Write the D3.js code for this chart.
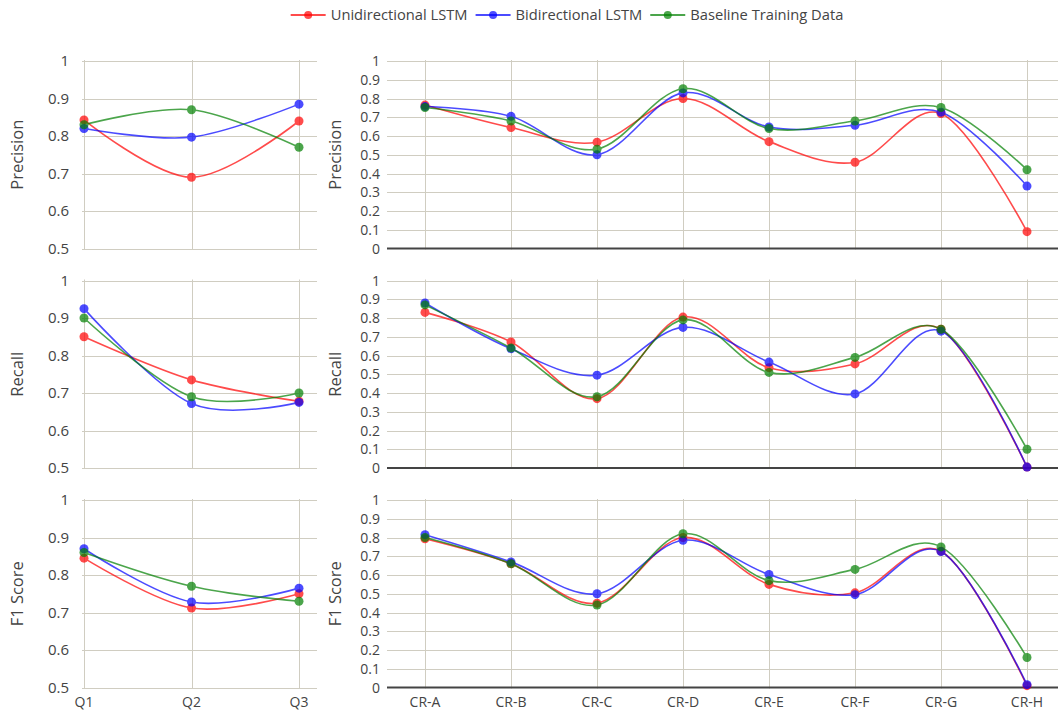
<!DOCTYPE html>
<html><head><meta charset="utf-8">
<script src="https://cdn.jsdelivr.net/npm/d3@7"></script>
<style>
html,body{margin:0;padding:0;background:#fff;overflow:hidden}
text{font-family:"Open Sans",sans-serif;fill:#444}
</style></head>
<body>
<svg id="chart" width="1058" height="715"></svg>
<script>
const seriesNames = ["Unidirectional LSTM","Bidirectional LSTM","Baseline Training Data"];
const seriesColors = ["rgb(255,0,0)","rgb(0,0,255)","rgb(0,128,0)"];
const metrics = ["Precision","Recall","F1 Score"];
const quarters = ["Q1","Q2","Q3"];
const crs = ["CR-A","CR-B","CR-C","CR-D","CR-E","CR-F","CR-G","CR-H"];
const leftTicks = [0.5,0.6,0.7,0.8,0.9,1];
const rightTicks = [0,0.1,0.2,0.3,0.4,0.5,0.6,0.7,0.8,0.9,1];

// Quarterly values [uni, bi, base]
const qPrecision = [[0.843,0.69,0.84],[0.82,0.797,0.885],[0.83,0.87,0.77]];
const qRecall    = [[0.85,0.735,0.678],[0.925,0.672,0.675],[0.90,0.69,0.70]];
const qF1        = [[0.845,0.712,0.75],[0.87,0.728,0.765],[0.86,0.77,0.73]];

// Per-CR values [uni, bi, base]
const crPrecision = [
  [0.765,0.645,0.567,0.80,0.57,0.46,0.72,0.09],
  [0.757,0.705,0.50,0.83,0.648,0.657,0.727,0.333],
  [0.752,0.68,0.53,0.852,0.64,0.68,0.752,0.42]];
const crRecall = [
  [0.83,0.672,0.37,0.805,0.535,0.555,0.74,0.005],
  [0.88,0.636,0.495,0.75,0.565,0.395,0.73,0.005],
  [0.87,0.64,0.38,0.79,0.51,0.59,0.74,0.10]];
const crF1 = [
  [0.793,0.66,0.45,0.80,0.55,0.505,0.727,0.01],
  [0.815,0.67,0.50,0.785,0.603,0.495,0.725,0.015],
  [0.80,0.66,0.44,0.82,0.57,0.63,0.75,0.16]];

const qData = [qPrecision,qRecall,qF1];
const crData = [crPrecision,crRecall,crF1];

const svg = d3.select("#chart");
const rowTops = [61,280.5,500];
const rowH = 187.5;
const gridColor = "#d0cdc1";
const curve = d3.curveCardinal.tension(0);

// Legend
const leg = svg.append("g");
let lx = 0;
seriesNames.forEach((n,i)=>{
  const g = leg.append("g").attr("transform",`translate(${lx},0)`);
  g.append("line").attr("x1",0).attr("x2",35).attr("y1",0).attr("y2",0)
    .attr("stroke",seriesColors[i]).attr("stroke-width",2).attr("opacity",0.7);
  g.append("circle").attr("cx",17.5).attr("cy",0).attr("r",4).attr("fill",seriesColors[i]).attr("opacity",0.7);
  const t = g.append("text").attr("x",40).attr("y",5).attr("font-size",14.7).text(n);
  lx += 40 + t.node().getComputedTextLength() + 8;
});
const legW = lx - 8;
leg.attr("transform",`translate(${567 - legW/2},15)`);

function panel(rowIdx, cats, data, xRange, area, ticks, yDomain, tickGap, titleX, isRight, showX){
  const top = rowTops[rowIdx], bottom = top + rowH;
  const x = d3.scalePoint().domain(cats).range(xRange);
  const y = d3.scaleLinear().domain(yDomain).range([bottom, top]);
  const g = svg.append("g");
  // horizontal gridlines
  ticks.forEach(t=>{
    if (isRight && t===0) return;
    g.append("line").attr("x1",area[0]).attr("x2",area[1])
      .attr("y1",Math.round(y(t))+0.5).attr("y2",Math.round(y(t))+0.5)
      .attr("stroke",gridColor).attr("stroke-width",1);
  });
  // vertical gridlines
  cats.forEach(c=>{
    g.append("line").attr("x1",Math.round(x(c))+0.5).attr("x2",Math.round(x(c))+0.5)
      .attr("y1",top-1).attr("y2",bottom+1)
      .attr("stroke",gridColor).attr("stroke-width",1);
  });
  if (isRight){
    g.append("line").attr("x1",area[0]).attr("x2",area[1])
      .attr("y1",y(0)).attr("y2",y(0)).attr("stroke","#444").attr("stroke-width",2);
  }
  // y tick labels
  ticks.forEach(t=>{
    g.append("text").attr("x",area[0]-tickGap).attr("y",y(t)+5)
      .attr("text-anchor","end").attr("font-size",isRight?14:15).text(d3.format("")(+t.toFixed(1)));
  });
  // x tick labels
  if (showX){
    cats.forEach(c=>{
      g.append("text").attr("x",x(c)).attr("y",bottom+19).attr("text-anchor","middle")
        .attr("font-size",14).text(c);
    });
  }
  // axis title
  g.append("text").attr("transform",`translate(${titleX},${top+rowH/2}) rotate(-90)`)
    .attr("text-anchor","middle").attr("font-size",16.5).text(metrics[rowIdx]);
  // series
  const line = d3.line().x((d,i)=>x(cats[i])).y(d=>y(d)).curve(curve);
  data.forEach((vals,si)=>{
    const sg = g.append("g").attr("opacity",0.7);
    sg.append("path").attr("d",line(vals)).attr("fill","none")
      .attr("stroke",seriesColors[si]).attr("stroke-width",1.6);
    sg.selectAll("circle").data(vals).join("circle")
      .attr("cx",(d,i)=>x(cats[i])).attr("cy",d=>y(d)).attr("r",4.5)
      .attr("fill",seriesColors[si]);
  });
}

for (let r=0;r<3;r++){
  panel(r, quarters, qData[r], [84,299], [82,317], leftTicks, [0.5,1], 13, 23, false, r===2);
  panel(r, crs, crData[r], [425,1027], [387,1065], rightTicks, [0,1], 7, 341, true, r===2);
}
</script>
</body></html>
